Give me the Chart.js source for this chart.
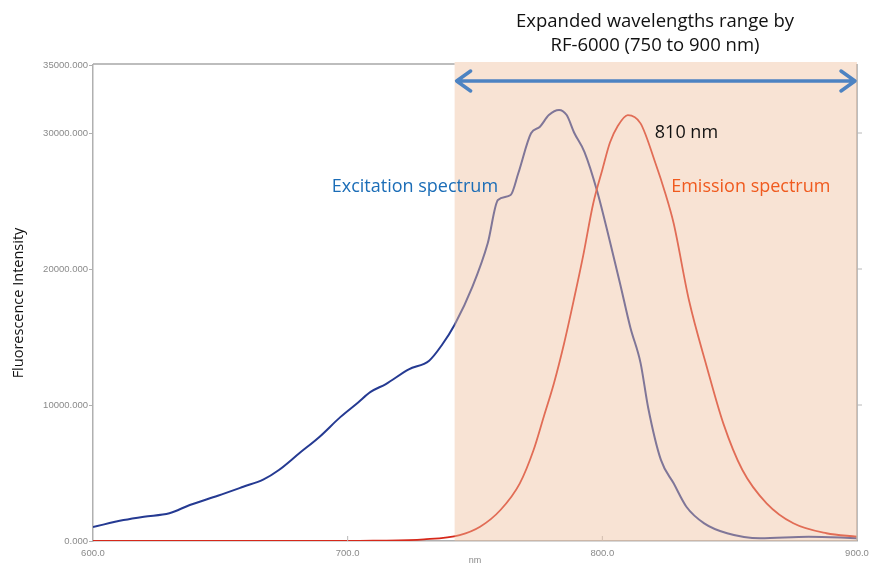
<!DOCTYPE html>
<html>
<head>
<meta charset="utf-8">
<script src="https://cdn.jsdelivr.net/npm/chart.js@4.4.1/dist/chart.umd.min.js"></script>
<style>
  html, body { margin: 0; padding: 0; background: #fff; }
  #wrap { position: relative; width: 869px; height: 566px; }
</style>
</head>
<body>
<div id="wrap"><canvas id="spectrum"></canvas></div>
<script>
// excitation spectrum (wavelength nm / intensity)
const excitationNm = [600, 612, 620, 630, 638, 649, 659, 667, 673, 681, 689, 697, 704, 709, 715, 724, 732, 737, 742,
  749, 755, 759, 764, 767, 772, 775.5, 779, 783, 786, 789, 793, 798, 803, 807, 811, 815, 818, 823, 828, 833, 840,
  849, 862, 881, 900];
const excitationVal = [1030, 1540, 1790, 2040, 2650, 3330, 3990, 4530, 5220, 6450, 7670, 9090, 10170, 10960, 11540,
  12620, 13260, 14410, 15900, 18700, 21890, 25070, 25440, 27040, 29980, 30460, 31320, 31700, 31320, 30000, 28600,
  25700, 22000, 18900, 15700, 13100, 9800, 5960, 4240, 2520, 1300, 570, 200, 320, 200];

// emission spectrum
const emissionNm = [600, 700, 710, 730, 744, 752, 760, 767.6, 773, 777, 781, 785, 789, 792.5, 796.4, 800, 803, 806,
  810, 815, 821, 824.5, 828, 834, 841, 847.5, 855, 864.5, 875, 888, 900];
const emissionVal = [0, 0, 20, 120, 440, 1050, 2280, 4240, 6690, 9140, 11600, 14540, 17900, 21000, 24800, 27300,
  29300, 30500, 31320, 30710, 27700, 25700, 23360, 17720, 12820, 8650, 5220, 2770, 1300, 570, 320];

// axes
const xTicks = [600, 700, 800, 900];
const yTicks = [0, 10000, 20000, 30000, 35000];
const shadeRange = [742, 900];

const toPoints = (xs, ys) => xs.map((v, i) => ({ x: v, y: ys[i] }));

// 枠線・網掛け・注記を描くプラグイン
const annotations = {
  id: 'annotations',
  afterDatasetsDraw(chart) {
    const { ctx, chartArea: a, scales: { x, y } } = chart;
    const x0 = x.getPixelForValue(shadeRange[0]);
    const x1 = x.getPixelForValue(shadeRange[1]);
    ctx.save();

    // box: top and right borders
    ctx.strokeStyle = '#a8a8a8';
    ctx.lineWidth = 1.5;
    ctx.beginPath();
    ctx.moveTo(a.left, a.top - 1);
    ctx.lineTo(x0, a.top - 1);
    ctx.moveTo(a.right, a.top - 1);
    ctx.lineTo(a.right, a.bottom);
    ctx.stroke();
    ctx.lineWidth = 1;
    ctx.strokeStyle = '#b8b8b8';
    ctx.beginPath();
    yTicks.slice(1, 4).forEach(v => {
      const py = y.getPixelForValue(v);
      ctx.moveTo(a.right, py);
      ctx.lineTo(a.right + 5, py);
    });
    xTicks.slice(1, 3).forEach(v => {
      const px = x.getPixelForValue(v);
      ctx.moveTo(px, a.bottom);
      ctx.lineTo(px, a.bottom - 5);
    });
    ctx.stroke();

    // shaded range (translucent so the lines are tinted)
    ctx.fillStyle = 'rgba(240,194,160,0.45)';
    ctx.fillRect(x0, a.top - 3, x1 - x0, a.bottom - a.top + 3);

    // double arrow
    const ay = a.top + 16;
    ctx.strokeStyle = '#4d83c2';
    ctx.lineWidth = 3.5;
    ctx.lineCap = 'round';
    ctx.lineJoin = 'round';
    ctx.beginPath();
    ctx.moveTo(x0 + 2, ay);
    ctx.lineTo(x1 - 2, ay);
    ctx.moveTo(x0 + 16, ay - 10);
    ctx.lineTo(x0 + 2, ay);
    ctx.lineTo(x0 + 16, ay + 10);
    ctx.moveTo(x1 - 16, ay - 10);
    ctx.lineTo(x1 - 2, ay);
    ctx.lineTo(x1 - 16, ay + 10);
    ctx.stroke();

    // texts
    ctx.textBaseline = 'middle';
    ctx.textAlign = 'center';
    ctx.fillStyle = '#111';
    ctx.font = '18.5px "Open Sans"';
    ctx.fillText('Expanded wavelengths range by', 655, 22);
    ctx.fillText('RF-6000 (750 to 900 nm)', 655, 46);

    ctx.font = '18px "Open Sans"';
    ctx.textAlign = 'left';
    ctx.fillText('810 nm', x.getPixelForValue(820.6), y.getPixelForValue(30000));

    ctx.textAlign = 'center';
    ctx.fillStyle = '#1b6db7';
    ctx.fillText('Excitation spectrum', x.getPixelForValue(726.4), y.getPixelForValue(26030));
    ctx.fillStyle = '#f05a1e';
    ctx.fillText('Emission spectrum', x.getPixelForValue(858.3), y.getPixelForValue(26030));
    ctx.restore();
  }
};

new Chart(document.getElementById('spectrum'), {
  type: 'scatter',
  data: {
    datasets: [
      {
        label: 'Emission spectrum',
        data: toPoints(emissionNm, emissionVal),
        showLine: true,
        borderColor: '#d6281a',
        borderWidth: 1.8,
        pointRadius: 0,
        cubicInterpolationMode: 'monotone'
      },
      {
        label: 'Excitation spectrum',
        data: toPoints(excitationNm, excitationVal),
        showLine: true,
        borderColor: '#253a92',
        borderWidth: 2,
        pointRadius: 0,
        cubicInterpolationMode: 'monotone'
      }
    ]
  },
  options: {
    responsive: true,
    maintainAspectRatio: false,
    animation: false,
    layout: { padding: { top: 65, right: 12, left: 0, bottom: 0 } },
    plugins: {
      legend: { display: false },
      tooltip: { enabled: false }
    },
    scales: {
      x: {
        type: 'linear',
        min: 600,
        max: 900,
        afterBuildTicks: s => { s.ticks = xTicks.map(v => ({ value: v })); },
        afterFit: s => { s.height = 25; s.paddingLeft = 0; s.paddingRight = 0; },
        grid: { display: true, drawOnChartArea: false, drawTicks: false, color: '#b0b0b0' },
        border: { color: '#b0b0b0', width: 1.5 },
        ticks: {
          color: '#8a8a8a',
          font: { size: 9.5, family: 'Liberation Sans' },
          padding: 7,
          maxRotation: 0,
          callback: v => Number(v).toFixed(1)
        },
        title: {
          display: true,
          text: 'nm',
          color: '#8a8a8a',
          font: { size: 9, family: 'Liberation Sans' },
          padding: { top: 0, bottom: 0 }
        }
      },
      y: {
        min: 0,
        max: 35000,
        afterBuildTicks: s => { s.ticks = yTicks.map(v => ({ value: v })); },
        afterFit: s => { s.width = 93; s.paddingTop = 0; s.paddingBottom = 0; },
        grid: { display: true, drawOnChartArea: false, drawTicks: true, tickLength: 4, color: '#b0b0b0' },
        border: { color: '#b0b0b0', width: 1.5 },
        ticks: {
          color: '#8a8a8a',
          font: { size: 9.5, family: 'Liberation Sans' },
          padding: 1,
          callback: v => Number(v).toFixed(3)
        },
        title: {
          display: true,
          text: 'Fluorescence Intensity',
          color: '#111',
          font: { size: 14.5, family: 'Open Sans' },
          padding: { top: 10, bottom: 0 }
        }
      }
    }
  },
  plugins: [annotations]
});
</script>
</body>
</html>
